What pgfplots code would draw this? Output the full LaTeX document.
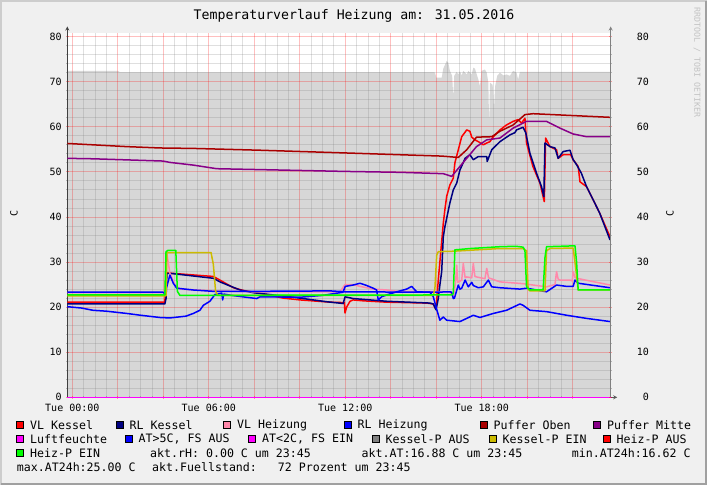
\documentclass[border=0pt]{standalone}
\usepackage{fontspec}
\setmainfont{DejaVu Sans Mono}
\usepackage{pgfplots}
\pgfplotsset{compat=1.18}
\usetikzlibrary{arrows.meta}
\definecolor{bgc}{RGB}{240,240,240}
\definecolor{areac}{RGB}{215,215,215}
\definecolor{vlk}{RGB}{255,0,0}
\definecolor{rlk}{RGB}{0,0,128}
\definecolor{vlh}{RGB}{255,136,170}
\definecolor{rlh}{RGB}{0,0,255}
\definecolor{pob}{RGB}{170,0,0}
\definecolor{pmi}{RGB}{136,0,136}
\definecolor{luf}{RGB}{255,0,255}
\definecolor{kpa}{RGB}{128,128,128}
\definecolor{kpe}{RGB}{204,187,0}
\definecolor{hpe}{RGB}{0,255,0}
\definecolor{arrowc}{RGB}{150,30,30}
\definecolor{wm}{RGB}{195,195,195}
\newcommand{\lfont}{\fontsize{11.6}{14}\selectfont}
\pgfplotsset{
  base/.style={
    at={(67.3pt,87.7pt)}, anchor=south west,
    scale only axis, width=543.4pt, height=364.3pt,
    xmin=-0.22, xmax=23.67, ymin=0, ymax=80.8,
  },
  ticksty/.style={
    axis line style={line width=0.8pt, -{Triangle[length=5pt,width=4.5pt,color=arrowc]}, shorten >=-6.5pt},
    ytick={0,10,...,80},
    minor y tick num=4,
    tick align=outside,
    major tick length=3pt, minor tick length=2pt,
    major tick style={color=red, opacity=0.35, line width=0.8pt},
    minor tick style={color=gray, opacity=0.5, line width=0.8pt},
    /pgf/number format/assume math mode=true,
    ticklabel style={font=\fontsize{10}{12}\selectfont},
  },
}
\begin{document}
\begin{tikzpicture}
\useasboundingbox (0pt,0pt) rectangle (707pt,485pt);
\fill[bgc] (0pt,0pt) rectangle (707pt,485pt);
\draw[color={rgb,255:red,205;green,205;blue,205}, line width=2pt] (1pt,0pt) -- (1pt,484pt) -- (707pt,484pt);
\draw[color={rgb,255:red,160;green,160;blue,160}, line width=2pt] (1pt,1pt) -- (706pt,1pt) -- (706pt,484pt);
\fill[white] (67.3pt,87.7pt) rectangle (610.7pt,452pt);
\node[font=\fontsize{13.2}{16}\selectfont] at (354pt,469pt) {Temperaturverlauf Heizung am: 31.05.2016};
\node[rotate=-90, anchor=west, inner sep=0pt, text=wm, font=\fontsize{8.3}{10}\selectfont] at (697pt,478pt) {RRDTOOL / TOBI OETIKER};
\node[rotate=90, font=\fontsize{10}{12}\selectfont] at (14pt,272pt) {C};
\node[rotate=90, font=\fontsize{10}{12}\selectfont] at (670pt,272pt) {C};
% Fuellstand area (below the grid)
\begin{axis}[base, hide axis]
\addplot[fill=areac, draw=none] coordinates {
(-0.22,72.4) (2.0,72.4) (2.1,72.1) (15.9,72.1) (15.95,72.0) (16.0,70.9) (16.24,70.9) (16.31,72.9) (16.46,74.6) (16.53,74.2) (16.60,72.4) (16.70,71.3) (16.75,66.4) (16.79,71.3) (16.90,72.2) (16.97,71.6) (17.04,72.3) (17.12,71.4) (17.19,72.4) (17.34,71.6) (17.41,72.4) (17.56,71.6) (17.63,73.1) (17.70,72.9) (17.85,70.5) (17.92,69.0) (17.99,72.4) (18.14,72.7) (18.22,72.0) (18.29,69.8) (18.33,59.5) (18.36,69.8) (18.48,69.3) (18.54,64.1) (18.59,69.0) (18.68,71.3) (18.80,72.0) (18.95,71.4) (19.09,71.6) (19.24,71.3) (19.38,72.4) (19.53,72.0) (19.60,70.5) (19.68,72.2) (23.67,72.2)
} \closedcycle;
\end{axis}
\begin{axis}[
  base, ticksty,
  axis x line=bottom, axis y line=left,
  x axis line style={draw=black!65},
  y axis line style={draw=black!75},
  xtick={0,2,...,22},
  xticklabels={Tue 00:00,,,Tue 06:00,,,Tue 12:00,,,Tue 18:00,,},
  minor x tick num=3,
  grid=both,
  major grid style={color=red, opacity=0.25, line width=0.8pt},
  minor grid style={color=gray, opacity=0.25, line width=0.8pt},
  yticklabel style={anchor=east, inner sep=0pt, xshift=-4pt},
  xticklabel style={inner sep=0pt, yshift=-5pt},
  clip=false,
  every axis plot/.append style={line width=1.5pt, line join=round},
]
% VL Kessel
\addplot[vlk] coordinates {
(-0.22,21.1) (4.07,21.1) (4.12,27.6) (6.20,26.8) (6.49,26.0) (7.08,24.3) (7.52,23.7) (8.55,22.8) (9.27,22.0) (10.01,21.6) (11.33,21.1) (11.96,21.0) (11.99,18.7) (12.06,20.0) (12.21,21.3) (12.35,21.6) (12.79,21.4) (13.82,21.1) (15.58,20.9) (15.87,20.7) (15.99,19.5) (16.09,26.0) (16.31,38.6) (16.38,41.6) (16.46,44.6) (16.60,47.1) (16.75,48.6) (16.82,52.0) (16.97,54.9) (17.12,57.8) (17.34,59.3) (17.48,59.0) (17.56,57.7) (17.70,57.1) (17.85,56.7) (18.07,56.0) (18.22,56.4) (18.36,56.7) (18.51,57.8) (18.80,59.3) (19.09,60.4) (19.38,61.2) (19.60,61.6) (19.75,60.8) (19.90,61.9) (19.97,56.4) (20.25,51.2) (20.56,47.5) (20.75,43.4) (20.81,57.5) (21.00,55.6) (21.29,54.9) (21.36,53.0) (21.58,53.8) (21.91,53.8) (22.02,52.7) (22.24,51.2) (22.32,47.8) (22.61,46.7) (22.90,43.8) (23.19,40.8) (23.64,35.6)
};
% RL Kessel
\addplot[rlk] coordinates {
(-0.22,20.7) (4.07,20.7) (4.12,21.9) (4.16,27.5) (4.29,27.5) (6.20,26.4) (6.49,25.6) (7.37,23.8) (7.96,23.2) (9.71,22.2) (11.18,21.2) (11.91,20.8) (11.99,22.3) (12.35,21.9) (13.82,21.3) (15.72,20.9) (15.87,20.7) (15.99,19.4) (16.09,21.9) (16.16,24.9) (16.24,27.9) (16.31,35.6) (16.38,37.8) (16.60,43.1) (16.75,46.0) (16.90,47.5) (17.04,50.4) (17.27,53.0) (17.48,53.8) (17.63,52.7) (17.85,53.4) (18.22,53.4) (18.24,52.3) (18.44,54.9) (18.80,56.7) (19.24,58.2) (19.46,58.7) (19.53,59.3) (19.82,59.9) (19.94,58.6) (20.12,54.1) (20.41,49.7) (20.63,46.7) (20.73,44.5) (20.78,56.4) (21.00,55.6) (21.22,55.3) (21.36,53.0) (21.58,54.5) (21.88,54.8) (22.02,52.7) (22.17,51.6) (22.38,49.7) (22.61,46.7) (22.90,43.8) (23.19,40.8) (23.64,34.9)
};
% VL Heizung
\addplot[vlh] coordinates {
(-0.22,23.2) (4.07,23.2) (4.16,31.8) (4.29,27.5) (4.51,25.0) (4.73,24.0) (6.20,23.6) (7.96,23.4) (11.77,23.4) (11.99,25.0) (12.35,25.0) (12.65,24.6) (13.23,24.0) (13.82,23.8) (14.30,23.5) (16.60,23.4) (16.75,22.3) (16.85,25.5) (16.90,29.3) (16.95,25.5) (17.12,26.0) (17.19,29.7) (17.27,26.5) (17.34,26.7) (17.56,26.5) (17.63,29.7) (17.70,26.8) (17.77,26.7) (18.14,26.3) (18.22,28.6) (18.30,26.5) (18.36,26.4) (18.80,25.6) (19.82,25.2) (20.85,24.5) (21.22,25.0) (21.29,27.9) (21.36,26.2) (21.44,26.0) (21.88,26.0) (21.98,25.8) (22.02,27.9) (22.10,26.6) (22.17,26.4) (23.64,24.9)
};
% RL Heizung
\addplot[rlh] coordinates {
(-0.22,23.3) (3.99,23.3) (4.07,23.0) (4.29,27.1) (4.44,25.3) (4.59,24.2) (5.32,23.8) (6.20,23.5) (8.00,23.5) (11.33,23.6) (12.00,23.4) (15.90,23.3) (16.60,23.4) (16.68,23.3) (16.75,21.9) (16.80,22.0) (16.97,24.9) (17.04,24.0) (17.12,24.2) (17.27,26.0) (17.41,24.5) (17.56,25.5) (17.63,24.8) (17.85,24.3) (18.07,24.5) (18.29,26.0) (18.44,24.5) (18.80,24.3) (19.68,24.0) (19.97,24.2) (20.85,23.4) (21.29,24.9) (21.73,24.6) (22.02,24.6) (22.10,26.0) (22.24,25.3) (23.64,24.3)
};
% Puffer Oben
\addplot[pob] coordinates {
(-0.22,56.3) (2.39,55.6) (3.85,55.3) (5.32,55.2) (8.25,54.8) (11.99,54.2) (14.40,53.8) (16.24,53.5) (16.97,53.2) (17.34,54.9) (17.77,57.7) (18.44,57.8) (18.80,59.0) (19.38,60.4) (19.90,62.7) (20.26,62.9) (23.64,62.1)
};
% Puffer Mitte
\addplot[pmi] coordinates {
(-0.22,53.0) (0.91,52.9) (3.99,52.4) (4.29,52.1) (5.32,51.5) (6.35,50.7) (8.25,50.5) (11.99,50.1) (14.40,49.9) (16.31,49.6) (16.68,49.0) (17.04,51.2) (17.77,55.6) (18.22,57.1) (18.80,57.5) (19.38,59.7) (19.97,61.2) (20.85,61.2) (21.44,59.7) (22.02,58.4) (22.61,57.8) (23.64,57.8)
};
% Luftfeuchte
\addplot[luf] coordinates {(-0.22,0) (23.67,0)};
% AT (>5C)
\addplot[rlh] coordinates {
(-0.22,20.1) (0.40,19.8) (0.91,19.3) (1.50,19.1) (2.39,18.6) (3.00,18.2) (3.85,17.7) (4.29,17.6) (5.00,18.0) (5.32,18.6) (5.61,19.3) (5.76,20.4) (6.05,21.3) (6.27,22.8) (6.57,23.1) (6.61,21.6) (6.66,22.9) (7.00,22.6) (8.11,21.9) (8.25,22.3) (10.01,22.2) (11.00,22.6) (11.90,23.3) (12.00,24.6) (12.35,24.9) (12.65,25.3) (12.94,24.8) (13.23,24.2) (13.38,23.8) (13.45,21.6) (13.60,22.3) (13.82,22.7) (14.26,23.4) (14.70,24.0) (14.92,24.6) (15.14,23.4) (15.72,23.3) (15.87,22.3) (16.02,19.5) (16.16,17.1) (16.31,17.8) (16.46,17.1) (17.04,16.8) (17.34,17.5) (17.63,18.2) (17.92,17.7) (18.51,18.6) (19.09,19.3) (19.68,20.7) (19.82,20.4) (20.12,19.3) (20.85,19.0) (21.73,18.2) (22.61,17.5) (23.64,16.8)
};
% Kessel-P EIN
\addplot[kpe] coordinates {
(-0.22,22.5) (4.12,22.5) (4.16,32.1) (6.10,32.1) (6.20,29.5) (6.30,23.5) (6.40,22.6) (15.87,22.6) (15.94,24.0) (16.02,31.5) (16.09,32.3) (16.75,32.4) (18.80,33.0) (19.82,33.0) (19.97,32.5) (20.04,24.0) (20.12,23.6) (20.78,23.6) (20.85,32.5) (21.00,33.0) (22.02,33.1) (22.10,30.0) (22.24,23.8) (23.64,23.8)
};
% Heiz-P EIN
\addplot[hpe] coordinates {
(-0.22,22.7) (4.07,22.7) (4.12,32.3) (4.21,32.6) (4.55,32.6) (4.62,23.5) (4.73,22.6) (16.68,22.7) (16.75,23.0) (16.82,32.7) (17.50,33.0) (18.80,33.4) (19.50,33.5) (19.82,33.3) (19.90,32.5) (19.97,24.5) (20.12,23.8) (20.70,23.8) (20.78,31.0) (20.85,33.4) (22.10,33.6) (22.17,30.0) (22.24,23.8) (23.64,23.8)
};
\end{axis}
\begin{axis}[
  base, ticksty,
  axis x line=none, axis y line=right,
  y axis line style={draw=black!50},
  yticklabel style={anchor=east, inner sep=0pt, xshift=37pt},
]
\addplot[draw=none] coordinates {(0,0)};
\end{axis}
% legend
\begin{scope}[font=\lfont]
\foreach \sx/\sy/\col/\txt in {
 20/60/vlk/VL Kessel, 119.5/60/rlk/RL Kessel, 227/60/vlh/VL Heizung, 347.5/60/rlh/RL Heizung, 483.5/60/pob/Puffer Oben, 597/60/pmi/Puffer Mitte,
 20/46/luf/Luftfeuchte, 128.5/46/rlh/{AT>5C, FS AUS}, 252/46/luf/{AT<2C, FS EIN}, 375.5/46/kpa/Kessel-P AUS, 492.5/46/kpe/Kessel-P EIN, 606.5/46/vlk/Heiz-P AUS,
 20/32.3/hpe/Heiz-P EIN} {
  \draw[fill=\col, draw=black, line width=0.6pt] (\sx pt-3.5pt,\sy pt-3.5pt) rectangle ++(7pt,7pt);
  \node[anchor=west, inner sep=0pt] at (\sx pt+10pt,\sy pt) {\txt};
}
\node[anchor=west, inner sep=0pt] at (150pt,32.3pt) {akt.rH: 0.00 C um 23:45};
\node[anchor=west, inner sep=0pt] at (361.5pt,32.3pt) {akt.AT:16.88 C um 23:45};
\node[anchor=west, inner sep=0pt] at (571.7pt,32.3pt) {min.AT24h:16.62 C};
\node[anchor=west, inner sep=0pt] at (16.7pt,17.7pt) {max.AT24h:25.00 C};
\node[anchor=west, inner sep=0pt] at (152pt,17.7pt) {akt.Fuellstand:\ \ \ 72 Prozent um 23:45};
\end{scope}
\end{tikzpicture}
\end{document}
